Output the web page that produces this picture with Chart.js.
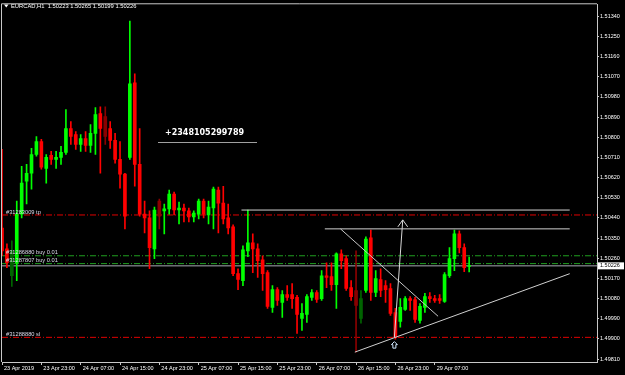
<!DOCTYPE html>
<html>
<head>
<meta charset="utf-8">
<script src="https://cdn.jsdelivr.net/npm/chart.js@4.4.1/dist/chart.umd.min.js"></script>
<style>
html, body { margin: 0; padding: 0; background: #000; overflow: hidden; }
</style>
</head>
<body>
<canvas id="chart" width="625" height="375"></canvas>
<script>
// EURCAD H1 candles, MetaTrader-style dark chart with order levels and drawn trend lines.

const symbolName = 'EURCAD,H1';

// One entry per hourly bar, 23 Apr 15:00 .. 29 Apr 14:00.
const opens = [
  1.50395, 1.50302, 1.50182, 1.50240, 1.50457, 1.50604, 1.50639, 1.50723, 1.50781, 1.50661,
  1.50719, 1.50701, 1.50710, 1.50732, 1.50839, 1.50812, 1.50768, 1.50794, 1.50763, 1.50817,
  1.50905, 1.50892, 1.50839, 1.50786, 1.50701, 1.50635, 1.50710, 1.51043, 1.50679, 1.50457,
  1.50440, 1.50302, 1.50515, 1.50471, 1.50480, 1.50546, 1.50475, 1.50484, 1.50471, 1.50444,
  1.50457, 1.50515, 1.50453, 1.50484, 1.50564, 1.50506, 1.50440, 1.50400, 1.50191, 1.50160,
  1.50293, 1.50329, 1.50302, 1.50253, 1.50196, 1.50041, 1.50120, 1.50063, 1.50098, 1.50098,
  1.50085, 1.49992, 1.50009, 1.50085, 1.50107, 1.50080, 1.50182, 1.50178, 1.50142, 1.50280,
  1.50258, 1.50129, 1.50116, 1.49992, 1.50116, 1.50351, 1.50107, 1.50165, 1.50138, 1.50125,
  1.50018, 1.49978, 1.50032, 1.50080, 1.50076, 1.49983, 1.50041, 1.50089, 1.50080, 1.50080,
  1.50067, 1.50182, 1.50258, 1.50369, 1.50307, 1.50223
];
const highs = [
  1.50746, 1.50324, 1.50338, 1.50515, 1.50670, 1.50679, 1.50750, 1.50803, 1.50790, 1.50723,
  1.50737, 1.50737, 1.50759, 1.50923, 1.50870, 1.50825, 1.50812, 1.50825, 1.50856, 1.50932,
  1.50936, 1.50936, 1.50870, 1.50817, 1.50781, 1.50639, 1.51318, 1.51083, 1.50839, 1.50515,
  1.50471, 1.50488, 1.50524, 1.50502, 1.50564, 1.50555, 1.50511, 1.50502, 1.50484, 1.50471,
  1.50524, 1.50524, 1.50515, 1.50577, 1.50577, 1.50581, 1.50502, 1.50409, 1.50213, 1.50315,
  1.50475, 1.50369, 1.50324, 1.50271, 1.50205, 1.50138, 1.50129, 1.50116, 1.50138, 1.50147,
  1.50094, 1.50058, 1.50098, 1.50120, 1.50116, 1.50205, 1.50240, 1.50240, 1.50284, 1.50298,
  1.50271, 1.50160, 1.50293, 1.50116, 1.50355, 1.50386, 1.50205, 1.50213, 1.50160, 1.50147,
  1.50036, 1.50080, 1.50089, 1.50089, 1.50085, 1.50058, 1.50103, 1.50107, 1.50094, 1.50098,
  1.50196, 1.50307, 1.50386, 1.50382, 1.50324, 1.50265
];
const lows = [
  1.50271, 1.50218, 1.50134, 1.50160, 1.50440, 1.50502, 1.50568, 1.50715, 1.50657, 1.50595,
  1.50679, 1.50661, 1.50679, 1.50723, 1.50768, 1.50746, 1.50737, 1.50737, 1.50732, 1.50723,
  1.50639, 1.50768, 1.50750, 1.50684, 1.50573, 1.50391, 1.50701, 1.50581, 1.50448, 1.50373,
  1.50213, 1.50258, 1.50391, 1.50369, 1.50457, 1.50453, 1.50413, 1.50422, 1.50422, 1.50422,
  1.50435, 1.50440, 1.50413, 1.50391, 1.50373, 1.50413, 1.50369, 1.50182, 1.50120, 1.50138,
  1.50267, 1.50196, 1.50174, 1.50116, 1.50036, 1.50018, 1.50049, 1.49996, 1.50072, 1.50036,
  1.49925, 1.49938, 1.49974, 1.50072, 1.50063, 1.50072, 1.50129, 1.50116, 1.50036, 1.50213,
  1.50116, 1.50072, 1.49841, 1.49970, 1.50107, 1.50072, 1.50089, 1.50089, 1.50063, 1.50005,
  1.49899, 1.49952, 1.50027, 1.50027, 1.49974, 1.49970, 1.50018, 1.50063, 1.50063, 1.50058,
  1.50063, 1.50174, 1.50205, 1.50284, 1.50200, 1.50199
];
const closes = [
  1.50293, 1.50240, 1.50293, 1.50457, 1.50595, 1.50639, 1.50723, 1.50781, 1.50666, 1.50710,
  1.50701, 1.50710, 1.50732, 1.50839, 1.50803, 1.50768, 1.50794, 1.50763, 1.50817, 1.50901,
  1.50839, 1.50803, 1.50786, 1.50701, 1.50635, 1.50448, 1.51038, 1.50679, 1.50457, 1.50440,
  1.50307, 1.50475, 1.50448, 1.50480, 1.50546, 1.50475, 1.50484, 1.50471, 1.50444, 1.50462,
  1.50515, 1.50457, 1.50488, 1.50568, 1.50506, 1.50435, 1.50395, 1.50191, 1.50165, 1.50298,
  1.50329, 1.50302, 1.50249, 1.50191, 1.50045, 1.50120, 1.50072, 1.50098, 1.50085, 1.50080,
  1.50009, 1.50014, 1.50089, 1.50107, 1.50076, 1.50182, 1.50174, 1.50142, 1.50280, 1.50249,
  1.50125, 1.50089, 1.50049, 1.50080, 1.50346, 1.50107, 1.50169, 1.50116, 1.50120, 1.50014,
  1.49907, 1.50041, 1.50080, 1.50072, 1.49987, 1.50045, 1.50089, 1.50080, 1.50072, 1.50072,
  1.50187, 1.50258, 1.50369, 1.50307, 1.50218, 1.50226
];
// bars drawn in the darker shade
const dimBars = [2, 21, 32, 72, 73];

// axes
const xTickIdx = [0, 8, 16, 24, 32, 40, 48, 56, 64, 72, 80, 88];
const xTickLabels = ['23 Apr 2019', '23 Apr 23:00', '24 Apr 07:00', '24 Apr 15:00', '24 Apr 23:00',
  '25 Apr 07:00', '25 Apr 15:00', '25 Apr 23:00', '26 Apr 07:00', '26 Apr 15:00', '26 Apr 23:00', '29 Apr 07:00'];
const yTicks = [1.4981, 1.4990, 1.4999, 1.5008, 1.5017, 1.5026, 1.5035, 1.5044, 1.5053,
  1.5062, 1.5071, 1.5080, 1.5089, 1.5098, 1.5107, 1.5116, 1.5125, 1.5134];

// open orders
const orderLabels = ['#31283009 tp', '#31286880 buy 0.01', '#31287807 buy 0.01', '#31288880 sl'];
const orderLevels = [1.50453, 1.50271, 1.50236, 1.49907];
const orderColors = ['#e00000', '#20a020', '#20a020', '#e00000'];

// hand-drawn objects: [bar index, price] pairs
const resistTop = [[48.7, 1.50475], [115.45, 1.50475]];
const resistLow = [[65.65, 1.50391], [115.45, 1.50391]];
const fallLine = [[68.84, 1.50391], [88.68, 1.50001]];
const riseLine = [[71.75, 1.49841], [115.45, 1.50191]];
const arrowShaft = [[79.8, 1.49907], [81.5, 1.50431]];
const arrowHead = [[80.5, 1.50400], [81.5, 1.50431], [82.5, 1.50400]];
const noteText = '+2348105299789';

const idx = opens.map((_, i) => i);
const barColor = i => {
  const up = closes[i] >= opens[i];
  if (dimBars.includes(i)) return up ? '#006400' : '#8b0000';
  return up ? '#00ff00' : '#ff0000';
};
const colors = idx.map(barColor);
const pts = arr => arr.map(p => ({ x: p[0], y: p[1] }));

const lineSet = (data, color, dash, order) => ({
  type: 'line', data, borderColor: color, borderWidth: 1, borderDash: dash,
  pointRadius: 0, fill: false, tension: 0, order
});

const datasets = [
  { label: 'wicks', data: idx.map(i => ({ x: i, y: [lows[i], highs[i]] })),
    backgroundColor: colors, barThickness: 1, grouped: false, order: 1 },
  { label: 'bodies', data: idx.map(i => ({ x: i, y: [opens[i], closes[i]] })),
    backgroundColor: colors, barThickness: 3, minBarLength: 1, grouped: false, order: 1 },
  lineSet([{ x: 0, y: closes[closes.length - 1] }, { x: 121, y: closes[closes.length - 1] }], '#a8a8b4', [], 2),
  lineSet(pts(resistTop), '#d0d0d0', [], 0),
  lineSet(pts(resistLow), '#d0d0d0', [], 0),
  lineSet(pts(fallLine), '#c8c8c8', [], 0),
  lineSet(pts(riseLine), '#d0d0d0', [], 0),
  lineSet(pts(arrowShaft), '#d8d8d8', [], 0),
  lineSet(pts(arrowHead), '#d8d8d8', [], 0)
];
orderLevels.forEach((lv, k) => {
  datasets.push(lineSet([{ x: 0, y: lv }, { x: 121, y: lv }], orderColors[k], [6, 2, 1, 2], 2));
});

const mtDeco = {
  id: 'mtDeco',
  beforeDraw(chart) {
    const c = chart.ctx;
    c.save();
    c.fillStyle = '#000';
    c.fillRect(0, 0, chart.width, chart.height);
    c.restore();
  },
  afterDraw(chart) {
    const c = chart.ctx, a = chart.chartArea;
    const xs = chart.scales.x, ys = chart.scales.y;
    const last = closes.length - 1;
    c.save();

    // top and left frame
    c.strokeStyle = '#c8c8c8';
    c.lineWidth = 1;
    c.beginPath();
    c.moveTo(a.left - 0.5, a.bottom);
    c.lineTo(a.left - 0.5, a.top - 0.5);
    c.lineTo(a.right, a.top - 0.5);
    c.stroke();

    // title
    c.fillStyle = '#ffffff';
    c.beginPath();
    c.moveTo(4, 4.5); c.lineTo(8.5, 4.5); c.lineTo(6.25, 7.5); c.closePath();
    c.fill();
    c.font = '5.8px "Liberation Sans"';
    c.textAlign = 'left';
    c.textBaseline = 'middle';
    const ohlc = [opens[last], highs[last], lows[last], closes[last]].map(v => v.toFixed(5)).join(' ');
    c.fillText(symbolName + '  ' + ohlc, 11, 6.5);

    // order labels
    c.fillStyle = '#dcdcec';
    c.font = '5.7px "Liberation Sans"';
    orderLabels.forEach((t, k) => c.fillText(t, a.left + 4, ys.getPixelForValue(orderLevels[k]) - 3));

    // note text with underline
    c.fillStyle = '#ffffff';
    c.font = 'bold 8px "DejaVu Sans"';
    c.fillText(noteText, 165, 133);
    c.strokeStyle = '#a0a0a0';
    c.beginPath();
    c.moveTo(158, 142.5); c.lineTo(257, 142.5);
    c.stroke();

    // current price tag
    const py = ys.getPixelForValue(closes[last]);
    c.fillStyle = '#ffffff';
    c.fillRect(a.right + 1, py - 3.5, 26, 7);
    c.fillStyle = '#000000';
    c.font = '5.5px "Liberation Sans"';
    c.fillText(closes[last].toFixed(5), a.right + 3, py);

    // up-arrow marker under bar 80
    const ax = xs.getPixelForValue(80) - 1, ay = ys.getPixelForValue(lows[80]) + 6;
    c.strokeStyle = '#d0e8ff';
    c.beginPath();
    c.moveTo(ax, ay - 3.5);
    c.lineTo(ax + 3, ay - 0.5); c.lineTo(ax + 1.5, ay - 0.5); c.lineTo(ax + 1.5, ay + 3);
    c.lineTo(ax - 1.5, ay + 3); c.lineTo(ax - 1.5, ay - 0.5); c.lineTo(ax - 3, ay - 0.5);
    c.closePath();
    c.stroke();

    c.restore();
  }
};

new Chart(document.getElementById('chart'), {
  type: 'bar',
  data: { datasets },
  plugins: [mtDeco],
  options: {
    responsive: false,
    animation: false,
    layout: { padding: { left: 2, top: 2, right: 0, bottom: 0 } },
    plugins: { legend: { display: false }, tooltip: { enabled: false } },
    scales: {
      x: {
        type: 'linear', min: 0, max: 121, offset: false,
        afterBuildTicks: s => { s.ticks = xTickIdx.map(v => ({ value: v })); },
        afterFit: s => { s.height = 13; },
        grid: { drawOnChartArea: false, drawTicks: true, tickLength: 3, color: '#c8c8c8', offset: false },
        border: { display: true, color: '#c8c8c8' },
        ticks: {
          autoSkip: false, maxRotation: 0, minRotation: 0, align: 'start', padding: 0, labelOffset: 2,
          color: '#ffffff', font: { family: 'Liberation Sans', size: 5.5 },
          callback: v => xTickLabels[xTickIdx.indexOf(v)]
        }
      },
      y: {
        position: 'right', min: 1.49797, max: 1.51393,
        afterBuildTicks: s => { s.ticks = yTicks.map(v => ({ value: v })); },
        afterFit: s => { s.width = 28; },
        grid: { drawOnChartArea: false, drawTicks: true, tickLength: 2, color: '#c8c8c8' },
        border: { display: true, color: '#c8c8c8' },
        ticks: {
          padding: 1, color: '#ffffff', font: { family: 'Liberation Sans', size: 5.5 },
          callback: v => v.toFixed(5)
        }
      }
    }
  }
});
</script>
</body>
</html>
